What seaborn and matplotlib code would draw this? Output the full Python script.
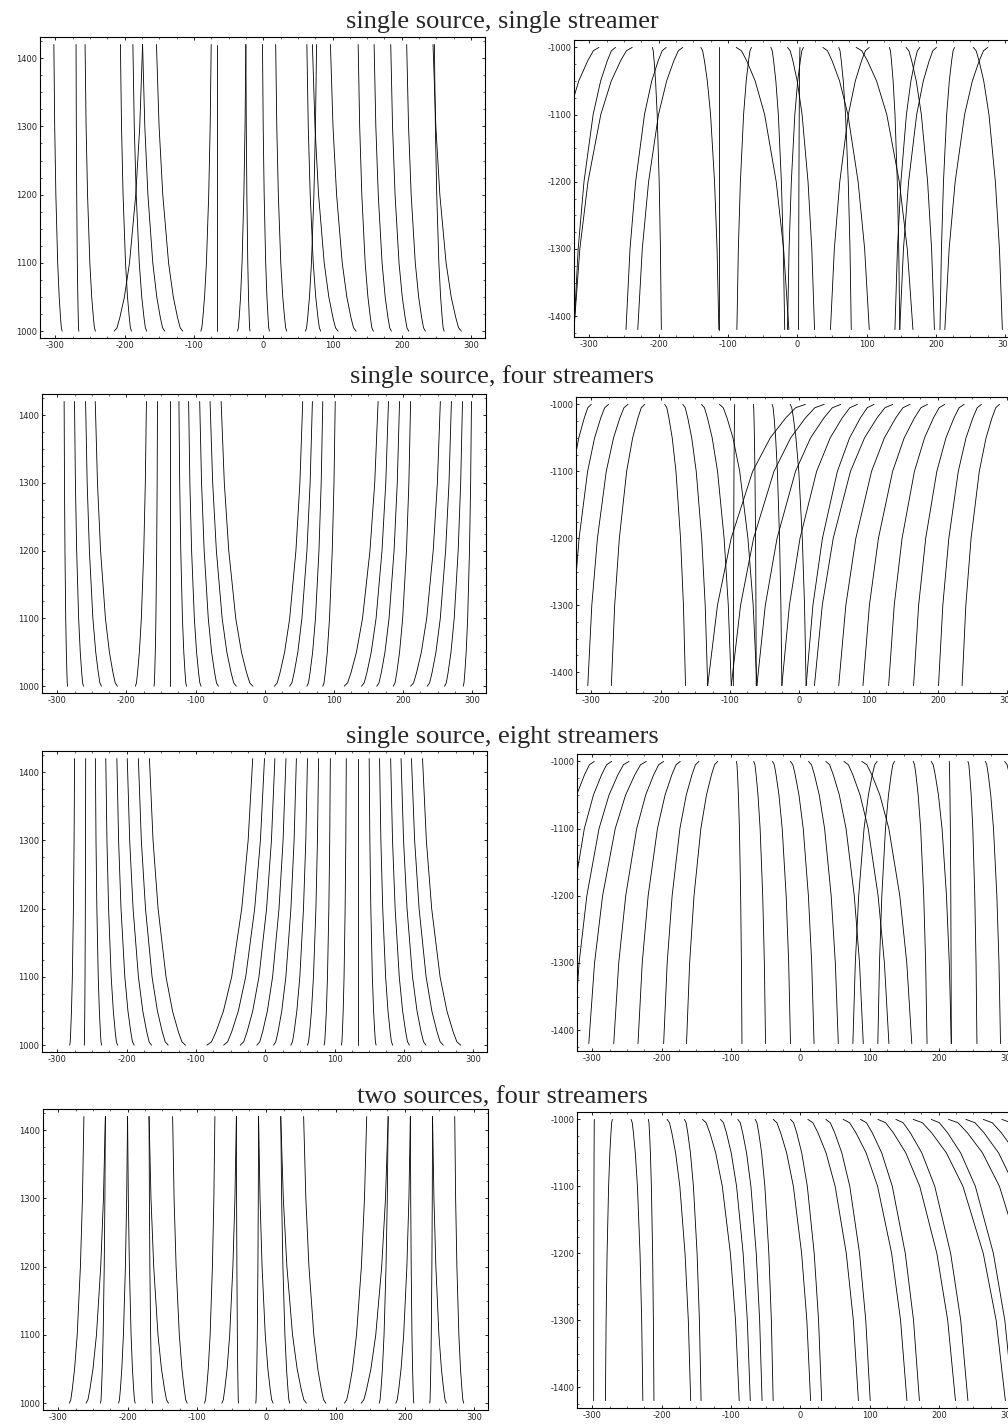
import numpy as np
import pandas as pd
import matplotlib
matplotlib.use("Agg")
import matplotlib.pyplot as plt
import seaborn as sns
from matplotlib.ticker import MultipleLocator

sns.set_theme(style="ticks")
plt.rcParams["font.family"] = ["DejaVu Sans"]
plt.rcParams["axes.unicode_minus"] = False

# ------------------------------------------------------------
# data
# every trace runs from its "near" x (at |y| = 1000) to its "far" x (at |y| = 1420)
# ------------------------------------------------------------
# shared bend of the traces: remaining fraction of the near->far shift vs depth below 1000
depth = [0, 5, 20, 50, 100, 200, 300, 420]
frac = [1.0, 0.9, 0.8, 0.64, 0.46, 0.24, 0.10, 0.0]

titles = ["single source, single streamer", "single source, four streamers",
          "single source, eight streamers", "two sources, four streamers"]

# row 1 : single source, single streamer
r1_left_near = [-290, -266, -242, -215, -190, -168, -142, -116, -90, -66, -37, -19,
                9, 34, 61, 83, 108, 134, 159, 185, 210, 234, 261, 286]
r1_left_far = [-302, -270, -257, -174, -206, -188, -174, -154, -75, -66, -25, -25,
               -1, 18, 77, 63, 71, 97, 137, 160, 184, 207, 247, 245]
r1_right_near = [-286, -262, -238, -209, -189, -165, -139, -113, -88, -66, -38, -14, 4,
                 9, 37, 60, 85, 104, 133, 157, 177, 201, 227, 254, 275]
r1_right_far = [-367, -322, -322, -196, -247, -230, -113, -113, -12, -87, -18, 25, 2,
                -14, 104, 78, 167, 48, 148, 198, 141, 148, 206, 296, 213]

# row 2 : single source, four streamers
r2_left_near = [-285, -262, -236, -213, -187, -160, -137, -113, -92, -67, -41, -17,
                14, 36, 61, 84, 115, 140, 162, 186, 211, 235, 260, 287]
r2_left_far = [-290, -275, -259, -245, -171, -155, -137, -124, -110, -94, -79, -63,
               55, 69, 84, 102, 164, 179, 195, 211, 254, 270, 286, 299]
r2_right_near = [-300, -275, -247, -223, -194, -168, -141, -115, -93, -66, -39, -13,
                 9, 36, 60, 84, 108, 135, 160, 185, 210, 238, 263, 289]
r2_right_far = [-350, -331, -305, -271, -164, -132, -98, -61, -95, -62, -25, 10,
                -132, -98, -61, -25, 10, 22, 57, 92, 129, 165, 201, 235]

# row 3 : single source, eight streamers
r3_left_near = [-282, -261, -236, -213, -189, -164, -140, -115, -84, -60, -36, -12,
                12, 37, 61, 85, 110, 134, 160, 184, 208, 232, 257, 282]
r3_left_far = [-275, -259, -245, -230, -214, -199, -183, -167, -18, -1, 14, 30,
               45, 61, 77, 94, 117, 134, 150, 165, 181, 196, 211, 227]
r3_right_near = [-297, -272, -247, -222, -197, -173, -146, -119, -92, -67, -40, -14,
                 12, 37, 63, 89, 111, 136, 163, 189, 215, 242, 267, 295]
r3_right_far = [-368, -345, -327, -305, -269, -234, -197, -164, -84, -50, -14, 20,
                55, 91, 128, 161, 76, 112, 183, 218, 218, 255, 289, 330]

# row 4 : two sources, four streamers
r4_left_near = [-284, -260, -239, -213, -189, -164, -141, -114, -89, -64, -40, -15,
                10, 34, 58, 86, 113, 137, 163, 187, 213, 236, 260, 285]
r4_left_far = [-263, -232, -232, -200, -200, -169, -169, -135, -74, -43, -43, -11,
               -11, 21, 21, 54, 145, 176, 176, 208, 208, 240, 240, 272]
r4_right_near = [-297, -271, -244, -219, -192, -167, -141, -115, -90, -65, -39, -14,
                 11, 37, 62, 87, 112, 138, 163, 189, 214, 239, 264, 291]
r4_right_far = [-298, -281, -227, -211, -158, -143, -88, -72, -55, -39, 15, 31,
                84, 101, 154, 172, 224, 242, 296, 307, 350, 370, 395, 420]

panels = [
    (r1_left_near, r1_left_far, r1_right_near, r1_right_far),
    (r2_left_near, r2_left_far, r2_right_near, r2_right_far),
    (r3_left_near, r3_left_far, r3_right_near, r3_right_far),
    (r4_left_near, r4_left_far, r4_right_near, r4_right_far),
]

# ------------------------------------------------------------
# layout (pixels of a 1008 x 1428 page); right column runs off the page like the scan
# ------------------------------------------------------------
W, H = 1008, 1428
left_boxes = [(40, 37, 485, 338), (42, 394, 486, 693), (42, 751, 487, 1052), (43, 1109, 488, 1410)]
right_boxes = [(574, 40, 1019, 337), (576, 397, 1021, 693), (577, 754, 1022, 1051), (577, 1112, 1022, 1408)]
title_base = [28, 383, 743, 1103]


def traces(near, far, sign):
    rows = []
    for i, (a, b) in enumerate(zip(near, far)):
        for d, f in zip(depth, frac):
            rows.append({"curve": i, "x": b + f * (a - b), "y": sign * (1000 + d)})
    return pd.DataFrame(rows)


def add_axes(fig, box):
    x0, y0, x1, y1 = box
    return fig.add_axes([x0 / W, 1 - y1 / H, (x1 - x0) / W, (y1 - y0) / H])


def style(ax, ylim, yticks):
    ax.set_xlim(-322, 320)
    ax.set_ylim(*ylim)
    ax.set_xticks([-300, -200, -100, 0, 100, 200, 300])
    ax.set_yticks(yticks)
    ax.xaxis.set_minor_locator(MultipleLocator(25))
    ax.yaxis.set_minor_locator(MultipleLocator(25))
    ax.tick_params(which="major", labelsize=6, length=2.5, width=0.6, pad=2, color="black",
                   top=True, right=True, direction="in")
    ax.tick_params(which="minor", length=1.3, width=0.5, top=True, right=True, direction="in")
    ax.set_xlabel("")
    ax.set_ylabel("")
    for s in ax.spines.values():
        s.set_linewidth(0.8)
        s.set_color("black")


fig = plt.figure(figsize=(W / 100, H / 100), dpi=100)

for k, (ln, lf, rn, rf) in enumerate(panels):
    axl = add_axes(fig, left_boxes[k])
    sns.lineplot(data=traces(ln, lf, 1), x="x", y="y", units="curve", estimator=None,
                 sort=False, color="black", lw=0.6, ax=axl, legend=False)
    style(axl, (990, 1431), [1000, 1100, 1200, 1300, 1400])

    axr = add_axes(fig, right_boxes[k])
    sns.lineplot(data=traces(rn, rf, -1), x="x", y="y", units="curve", estimator=None,
                 sort=False, color="black", lw=0.6, ax=axr, legend=False)
    style(axr, (-1431, -989), [-1400, -1300, -1200, -1100, -1000])

    fig.text(502 / W, 1 - title_base[k] / H, titles[k], ha="center", va="baseline",
             fontsize=19, family=["Liberation Serif", "DejaVu Serif"])

fig.savefig("out.png", dpi=100, facecolor="white")
